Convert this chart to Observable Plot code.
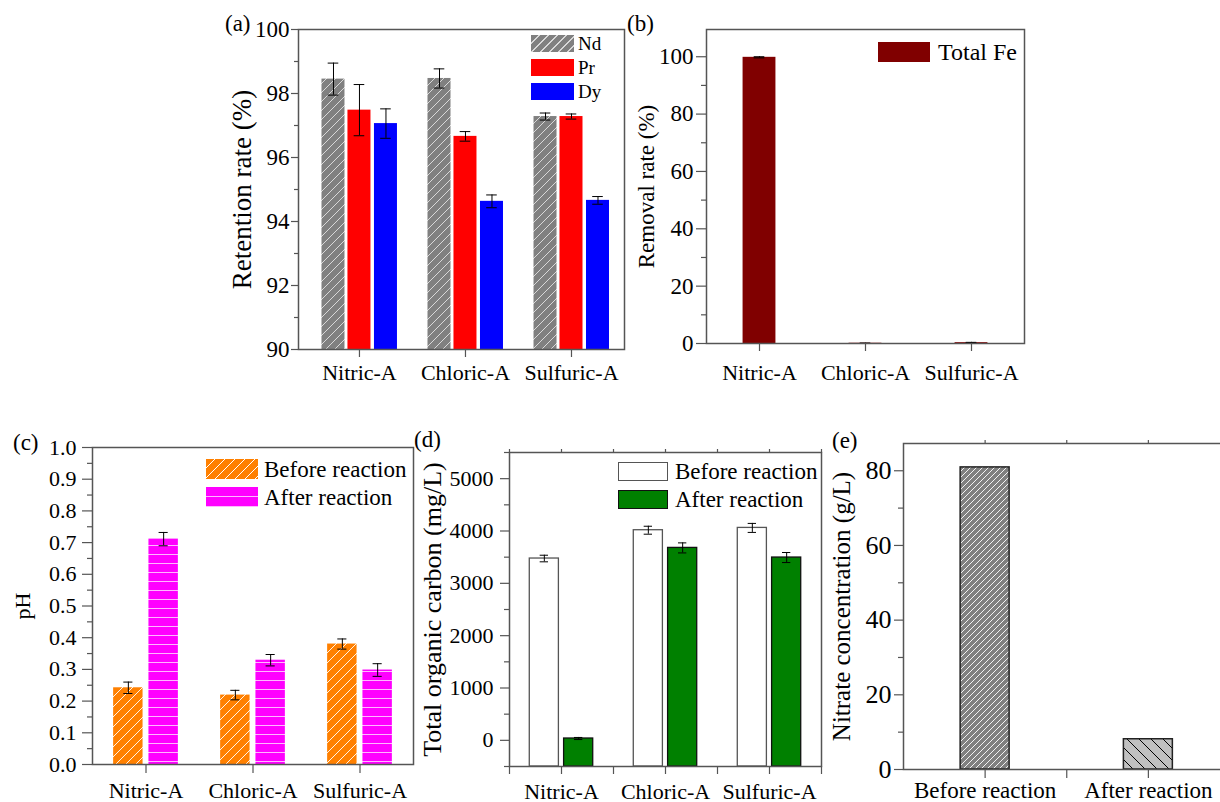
<!DOCTYPE html>
<html><head><meta charset="utf-8">
<script src="https://cdn.jsdelivr.net/npm/d3@7"></script>
<script src="https://cdn.jsdelivr.net/npm/@observablehq/plot@0.6"></script>
<style>
html,body{margin:0;padding:0;background:#fff;overflow:hidden;}
#root{position:relative;width:1220px;height:802px;font-family:"Liberation Serif",serif;color:#000;}
.panel{position:absolute;}
.panel svg{overflow:visible;max-width:none;}
.panel svg text{font-family:"Liberation Serif",serif;}
.tag{position:absolute;font-size:23px;line-height:1;white-space:nowrap;}
.leg{position:absolute;display:flex;align-items:center;white-space:nowrap;line-height:1;}
.sw{display:inline-block;box-sizing:border-box;flex:none;}
</style></head><body><div id="root"></div>
<script>
// ---------- data ----------
const acids = ["Nitric-A", "Chloric-A", "Sulfuric-A"];
const rareEarths = ["Nd", "Pr", "Dy"];
const retentionNd = [98.45, 98.47, 97.28];
const retentionNdErr = [0.5, 0.3, 0.11];
const retentionPr = [97.48, 96.66, 97.28];
const retentionPrErr = [0.8, 0.15, 0.08];
const retentionDy = [97.06, 94.63, 94.66];
const retentionDyErr = [0.46, 0.2, 0.12];
const feRemoval = [99.8, 0.1, 0.3];
const feRemovalErr = [0.2, 0.05, 0.1];
const phBefore = [0.242, 0.219, 0.38];
const phBeforeErr = [0.018, 0.015, 0.016];
const phAfter = [0.711, 0.329, 0.298];
const phAfterErr = [0.021, 0.018, 0.02];
const tocBefore = [3474, 4015, 4059];
const tocBeforeErr = [63, 76, 86];
const tocAfter = [35, 3677, 3493];
const tocAfterErr = [20, 96, 96];
const nitrateStages = ["Before reaction", "After reaction"];
const nitrate = [80.9, 8.1];

const retentionTicks = [90, 92, 94, 96, 98, 100];
const retentionMinor = [91, 93, 95, 97, 99];
const removalTicks = [0, 20, 40, 60, 80, 100];
const removalMinor = [10, 30, 50, 70, 90];
const phTicks = [0, 0.1, 0.2, 0.3, 0.4, 0.5, 0.6, 0.7, 0.8, 0.9, 1.0];
const phMinor = [0.05, 0.15, 0.25, 0.35, 0.45, 0.55, 0.65, 0.75, 0.85, 0.95];
const tocTicks = [0, 1000, 2000, 3000, 4000, 5000];
const tocMinor = [-500, 500, 1500, 2500, 3500, 4500, 5500];
const nitrateTicks = [0, 20, 40, 60, 80];
const nitrateMinor = [10, 30, 50, 70];

// ---------- helpers ----------
const AX = "#555";
const FONT = "Liberation Serif";
const root = document.getElementById("root");
const rows = (vals, errs) => vals.map((v, i) => ({i, v, e: errs ? errs[i] : 0}));
const blank = () => "";

function bars(data, {off = 0, w, base, fill, stroke, strokeWidth}) {
  return Plot.rect(data, {
    x1: d => d.i + off - w / 2, x2: d => d.i + off + w / 2,
    y1: base, y2: "v", fill, stroke, strokeWidth
  });
}
function errs(data, {off = 0, cap}) {
  const xc = d => d.i + off;
  return [
    Plot.ruleX(data, {x: xc, y1: d => d.v - d.e, y2: d => d.v + d.e, stroke: "#000", strokeWidth: 1}),
    Plot.ruleY(data, {y: d => d.v + d.e, x1: d => xc(d) - cap / 2, x2: d => xc(d) + cap / 2, stroke: "#000", strokeWidth: 1}),
    Plot.ruleY(data, {y: d => d.v - d.e, x1: d => xc(d) - cap / 2, x2: d => xc(d) + cap / 2, stroke: "#000", strokeWidth: 1})
  ];
}
function yAxes({ticks, minor, fmt, size, pad, font, label, labelSize, labelOffset}) {
  return [
    Plot.axisY(ticks, {tickSize: size, tickFormat: blank, label: null, stroke: AX, strokeWidth: 1.2}),
    Plot.axisY(minor, {tickSize: Math.round(size * 0.5), tickFormat: blank, label: null, stroke: AX, strokeWidth: 1.2}),
    Plot.axisY(ticks, {tickSize: 0, tickPadding: size + pad, fontSize: font, fontFamily: FONT, fontVariant: "normal", tickFormat: fmt, label: null, fill: "#000"}),
    Plot.axisY([], {label, fontSize: labelSize, fontFamily: FONT, labelAnchor: "center", labelOffset, labelArrow: "none", fill: "#000", tickSize: 0})
  ];
}
function xAxis({ticks, names, size, pad, font, extra = [], top = []}) {
  const m = [
    Plot.axisX(ticks.concat(extra), {tickFormat: blank, tickSize: size, label: null, stroke: AX, strokeWidth: 1.2}),
    Plot.axisX(ticks, {tickFormat: i => names[i], tickSize: 0, tickPadding: size + pad, fontSize: font, fontFamily: FONT, label: null, fill: "#000"})
  ];
  if (top.length) m.push(Plot.axisX(top, {anchor: "top", tickFormat: blank, tickSize: 4, label: null, stroke: AX, strokeWidth: 1.2}));
  return m;
}
function addDefs(svg, specs) {
  const ns = "http://www.w3.org/2000/svg";
  const defs = document.createElementNS(ns, "defs");
  for (const p of specs) {
    const s = p.s;
    const pat = document.createElementNS(ns, "pattern");
    pat.setAttribute("id", p.id);
    pat.setAttribute("patternUnits", "userSpaceOnUse");
    pat.setAttribute("width", s); pat.setAttribute("height", s);
    const r = document.createElementNS(ns, "rect");
    r.setAttribute("width", s); r.setAttribute("height", s); r.setAttribute("fill", p.bg);
    pat.appendChild(r);
    const path = document.createElementNS(ns, "path");
    let d;
    if (p.dir === "/") d = `M0,${s} L${s},0 M-1,1 L1,-1 M${s - 1},${s + 1} L${s + 1},${s - 1}`;
    else if (p.dir === "\\") d = `M0,0 L${s},${s} M-1,${s - 1} L1,${s + 1} M${s - 1},-1 L${s + 1},1`;
    else d = `M0,${s - 0.5} L${s},${s - 0.5}`;
    path.setAttribute("d", d);
    path.setAttribute("stroke", p.line);
    path.setAttribute("stroke-width", p.w);
    path.setAttribute("fill", "none");
    pat.appendChild(path);
    defs.appendChild(pat);
  }
  svg.insertBefore(defs, svg.firstChild);
}
function panel({left, top, width, height, m, xDomain, yDomain, marks, defs}) {
  const svg = Plot.plot({
    width, height, marginLeft: m[0], marginRight: m[1], marginTop: m[2], marginBottom: m[3],
    style: {fontFamily: FONT, background: "transparent", color: "#000", overflow: "visible"},
    x: {type: "linear", domain: xDomain},
    y: {type: "linear", domain: yDomain},
    marks
  });
  if (defs) addDefs(svg, defs);
  const div = document.createElement("div");
  div.className = "panel";
  div.style.left = left + "px"; div.style.top = top + "px";
  div.style.width = width + "px"; div.style.height = height + "px";
  div.appendChild(svg);
  root.appendChild(div);
}
function tag(text, left, top) {
  const d = document.createElement("div");
  d.className = "tag"; d.textContent = text;
  d.style.left = left + "px"; d.style.top = top + "px";
  root.appendChild(d);
}
function legend(items, {left, top, gap, w, h, font, textGap}) {
  items.forEach((it, k) => {
    const row = document.createElement("div");
    row.className = "leg";
    row.style.left = left + "px"; row.style.top = (top + k * gap) + "px"; row.style.height = h + "px";
    row.style.fontSize = font + "px";
    const sw = document.createElement("span");
    sw.className = "sw";
    sw.style.width = w + "px"; sw.style.height = h + "px";
    sw.style.background = it.bg;
    if (it.border) sw.style.border = it.border;
    const t = document.createElement("span");
    t.textContent = it.label; t.style.marginLeft = textGap + "px";
    row.appendChild(sw); row.appendChild(t);
    root.appendChild(row);
  });
}

// ---------- (a) retention ----------
const aW = 0.217, aOff = [-0.245, 0, 0.25];
const aNd = rows(retentionNd, retentionNdErr), aPr = rows(retentionPr, retentionPrErr), aDy = rows(retentionDy, retentionDyErr);
panel({
  left: 198, top: 0, width: 442, height: 399, m: [100, 16, 29, 50],
  xDomain: [-0.575, 2.5], yDomain: [90, 100],
  defs: [{id: "hatchNd", s: 9, bg: "#808080", line: "#d8d8d8", w: 1, dir: "/"}],
  marks: [
    bars(aNd, {off: aOff[0], w: aW, base: 90, fill: "url(#hatchNd)"}),
    bars(aPr, {off: aOff[1], w: aW, base: 90, fill: "#ff0000"}),
    bars(aDy, {off: aOff[2], w: aW, base: 90, fill: "#0000ff"}),
    ...errs(aNd, {off: aOff[0], cap: 0.1}),
    ...errs(aPr, {off: aOff[1], cap: 0.1}),
    ...errs(aDy, {off: aOff[2], cap: 0.1}),
    ...yAxes({ticks: retentionTicks, minor: retentionMinor, size: 7, pad: 2, font: 23, label: "Retention rate (%)", labelSize: 27, labelOffset: 67}),
    ...xAxis({ticks: [0, 1, 2], names: acids, size: 8, pad: 7, font: 22}),
    Plot.frame({stroke: AX, strokeWidth: 1.5})
  ]
});
tag("(a)", 225, 12);
legend([
  {label: rareEarths[0], bg: "repeating-linear-gradient(135deg,#808080 0 5.4px,#d8d8d8 5.4px 6.4px)"},
  {label: rareEarths[1], bg: "#ff0000"},
  {label: rareEarths[2], bg: "#0000ff"}
], {left: 531, top: 35, gap: 24, w: 43, h: 17, font: 19, textGap: 4});

// ---------- (b) Fe removal ----------
const bRows = rows(feRemoval, feRemovalErr);
panel({
  left: 606, top: 0, width: 438, height: 399, m: [100, 20, 29, 56],
  xDomain: [-0.5, 2.5], yDomain: [0, 109.5],
  marks: [
    bars(bRows, {w: 0.31, base: 0, fill: "#800000"}),
    ...errs(bRows, {cap: 0.1}),
    ...yAxes({ticks: removalTicks, minor: removalMinor, size: 10, pad: 3, font: 23, label: "Removal rate (%)", labelSize: 23, labelOffset: 69}),
    ...xAxis({ticks: [0, 1, 2], names: acids, size: 8, pad: 13, font: 22}),
    Plot.frame({stroke: AX, strokeWidth: 1.5})
  ]
});
tag("(b)", 627, 12);
legend([{label: "Total Fe", bg: "#800000"}], {left: 878, top: 42, gap: 0, w: 52, h: 20, font: 24, textGap: 8});

// ---------- (c) pH ----------
const cB = rows(phBefore, phBeforeErr), cA = rows(phAfter, phAfterErr);
panel({
  left: 0, top: 420, width: 423, height: 382, m: [92, 10, 27, 38],
  xDomain: [-0.5, 2.5], yDomain: [0, 1],
  defs: [
    {id: "hatchOrange", s: 10, bg: "#ff8000", line: "#ffffff", w: 0.9, dir: "/"},
    {id: "hlineMagenta", s: 9, bg: "#ff00ff", line: "#ffb8ff", w: 1, dir: "-"}
  ],
  marks: [
    bars(cB, {off: -0.165, w: 0.275, base: 0, fill: "url(#hatchOrange)"}),
    bars(cA, {off: 0.165, w: 0.275, base: 0, fill: "url(#hlineMagenta)"}),
    ...errs(cB, {off: -0.165, cap: 0.085}),
    ...errs(cA, {off: 0.165, cap: 0.085}),
    ...yAxes({ticks: phTicks, minor: phMinor, fmt: d3.format(".1f"), size: 10, pad: 6, font: 22, label: "pH", labelSize: 22, labelOffset: 78}),
    ...xAxis({ticks: [0, 1, 2], names: acids, size: 9, pad: 9, font: 22}),
    Plot.frame({stroke: AX, strokeWidth: 1.5})
  ]
});
tag("(c)", 13, 431);
legend([
  {label: "Before reaction", bg: "repeating-linear-gradient(135deg,#ff8000 0 6.1px,#ffffff 6.1px 7.07px)"},
  {label: "After reaction", bg: "repeating-linear-gradient(180deg,#ff00ff 0 9px,#ffb8ff 9px 10px)"}
], {left: 206, top: 459, gap: 28, w: 52, h: 20, font: 23, textGap: 6});

// ---------- (d) TOC ----------
const dB = rows(tocBefore, tocBeforeErr), dA = rows(tocAfter, tocAfterErr);
panel({
  left: 420, top: 420, width: 409, height: 382, m: [89, 8, 32, 36],
  xDomain: [-0.5, 2.5], yDomain: [-500, 5500],
  marks: [
    bars(dB, {off: -0.165, w: 0.28, base: -500, fill: "#ffffff", stroke: "#555", strokeWidth: 1.3}),
    bars(dA, {off: 0.165, w: 0.28, base: -500, fill: "#008000", stroke: "#111", strokeWidth: 1.3}),
    ...errs(dB, {off: -0.165, cap: 0.08}),
    ...errs(dA, {off: 0.165, cap: 0.08}),
    ...yAxes({ticks: tocTicks, minor: tocMinor, fmt: d3.format("d"), size: 9, pad: 7, font: 22, label: "Total organic carbon (mg/L)", labelSize: 26, labelOffset: 87}),
    ...xAxis({ticks: [0, 1, 2], names: acids, size: 8, pad: 9, font: 22, extra: [-0.5, 0.5, 1.5, 2.5], top: [-0.5, 0, 0.5, 1, 1.5, 2, 2.5]}),
    Plot.frame({stroke: AX, strokeWidth: 1.5})
  ]
});
tag("(d)", 414, 428);
legend([
  {label: "Before reaction", bg: "#ffffff", border: "1.5px solid #555"},
  {label: "After reaction", bg: "#008000", border: "1.5px solid #111"}
], {left: 618, top: 462, gap: 27.5, w: 50, h: 19, font: 23, textGap: 7});

// ---------- (e) nitrate ----------
const eRows = rows(nitrate);
panel({
  left: 820, top: 420, width: 410.5, height: 382, m: [83, 1, 23, 33],
  xDomain: [-0.5, 1.5], yDomain: [0, 87.3],
  defs: [
    {id: "hatchBefore", s: 6, bg: "#808080", line: "#ffffff", w: 0.9, dir: "/"},
    {id: "hatchAfter", s: 12, bg: "#c0c0c0", line: "#000000", w: 1, dir: "\\"}
  ],
  marks: [
    bars(eRows.slice(0, 1), {w: 0.30, base: 0, fill: "url(#hatchBefore)", stroke: "#222", strokeWidth: 1.5}),
    bars(eRows.slice(1), {w: 0.30, base: 0, fill: "url(#hatchAfter)", stroke: "#222", strokeWidth: 1.5}),
    ...yAxes({ticks: nitrateTicks, minor: nitrateMinor, size: 9, pad: 3, font: 26, label: "Nitrate concentration (g/L)", labelSize: 25, labelOffset: 71}),
    ...xAxis({ticks: [0, 1], names: nitrateStages, size: 9, pad: 3, font: 23, extra: [0.5], top: [0, 0.5, 1]}),
    Plot.frame({stroke: AX, strokeWidth: 1.5})
  ]
});
tag("(e)", 832, 429);
</script></body></html>
